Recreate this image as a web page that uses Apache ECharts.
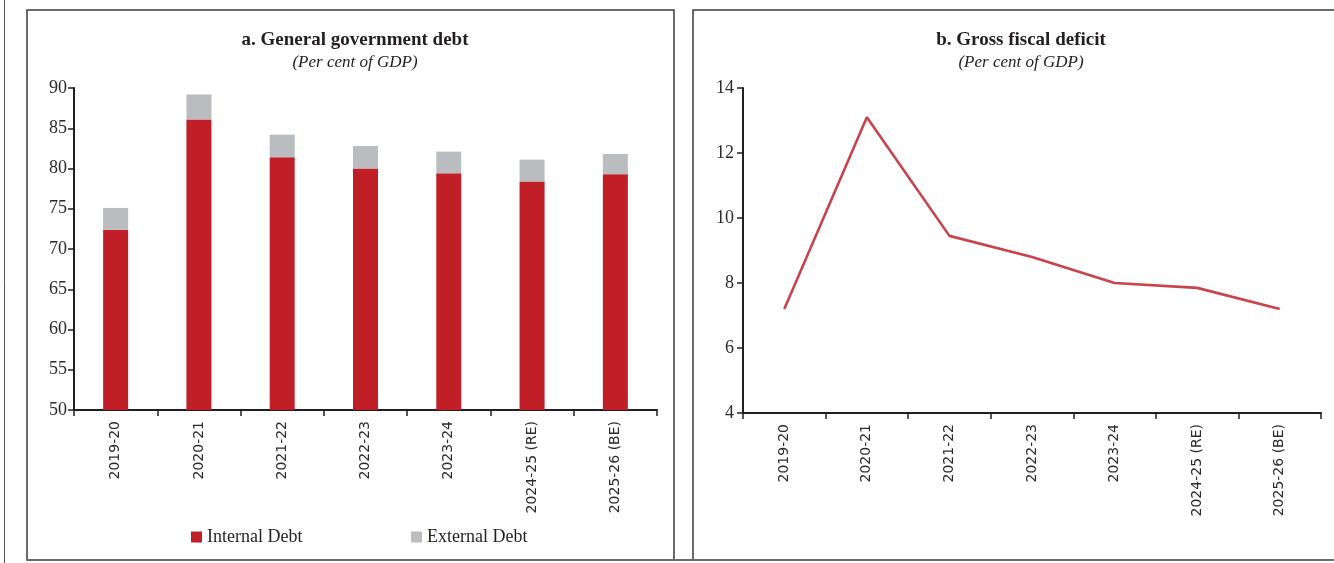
<!DOCTYPE html>
<html>
<head>
<meta charset="utf-8">
<script src="https://cdn.jsdelivr.net/npm/echarts@6/dist/echarts.min.js"></script>
<style>
  html, body { margin: 0; padding: 0; background: #ffffff; }
  #chart { width: 1334px; height: 563px; }
</style>
</head>
<body>
<div id="chart"></div>
<script>
// Fiscal years shown on both panels
const years = ['2019-20', '2020-21', '2021-22', '2022-23', '2023-24', '2024-25 (RE)', '2025-26 (BE)'];

// Panel a: general government debt, per cent of GDP
const internalDebt = [72.4, 86.1, 81.4, 80.0, 79.4, 78.4, 79.3];
const externalDebt = [2.7, 3.1, 2.8, 2.8, 2.7, 2.7, 2.5];

// Panel b: gross fiscal deficit, per cent of GDP
const grossFiscalDeficit = [7.2, 13.1, 9.45, 8.8, 8.0, 7.85, 7.2];

const titleA = 'a. General government debt';
const titleB = 'b. Gross fiscal deficit';
const subtitle = '(Per cent of GDP)';

const ink = '#231F20';
const serif = '"Liberation Serif", "DejaVu Serif", serif';
const sans = '"DejaVu Sans", Verdana, sans-serif';

const chart = echarts.init(document.getElementById('chart'), null, { renderer: 'canvas' });

function categoryAxis(gridIndex) {
  return {
    type: 'category',
    gridIndex: gridIndex,
    data: years,
    boundaryGap: true,
    axisLine: { lineStyle: { color: ink, width: 2 } },
    axisTick: { show: true, length: 6, lineStyle: { color: ink, width: 1.5 } },
    axisLabel: { rotate: 90, margin: 11, fontFamily: sans, fontSize: 14, color: '#2b2b2b' },
    splitLine: { show: false }
  };
}

function valueAxis(gridIndex, min, max, interval, margin) {
  return {
    type: 'value',
    gridIndex: gridIndex,
    min: min,
    max: max,
    interval: interval,
    axisLine: { show: true, lineStyle: { color: ink, width: 2 } },
    axisTick: { show: true, length: 6, lineStyle: { color: ink, width: 1.5 } },
    axisLabel: { margin: margin, fontFamily: serif, fontSize: 18, color: '#2b2b2b' },
    splitLine: { show: false }
  };
}

const legendText = { fontFamily: serif, fontSize: 18, color: ink };

chart.setOption({
  animation: false,
  backgroundColor: '#ffffff',
  title: [
    {
      text: titleA,
      subtext: subtitle,
      left: 350, top: 26, textAlign: 'center',
      itemGap: 4,
      textStyle: { fontFamily: serif, fontWeight: 'bold', fontSize: 19, color: ink },
      subtextStyle: { fontFamily: serif, fontStyle: 'italic', fontSize: 17, color: ink }
    },
    {
      text: titleB,
      subtext: subtitle,
      left: 1016, top: 26, textAlign: 'center',
      itemGap: 4,
      textStyle: { fontFamily: serif, fontWeight: 'bold', fontSize: 19, color: ink },
      subtextStyle: { fontFamily: serif, fontStyle: 'italic', fontSize: 17, color: ink }
    }
  ],
  legend: [
    {
      data: ['Internal Debt'],
      left: 186, top: 523,
      itemWidth: 11, itemHeight: 11,
      icon: 'rect',
      textStyle: legendText
    },
    {
      data: ['External Debt'],
      left: 406, top: 523,
      itemWidth: 11, itemHeight: 11,
      icon: 'rect',
      textStyle: legendText
    }
  ],
  grid: [
    { left: 74, right: 1334 - 657, top: 88, bottom: 563 - 410 },
    { left: 743, right: 1334 - 1321, top: 88, bottom: 563 - 413 }
  ],
  xAxis: [categoryAxis(0), categoryAxis(1)],
  yAxis: [valueAxis(0, 50, 90, 5, 7), valueAxis(1, 4, 14, 2, 9)],
  series: [
    {
      name: 'Internal Debt',
      type: 'bar',
      stack: 'debt',
      xAxisIndex: 0, yAxisIndex: 0,
      barWidth: 25,
      itemStyle: { color: '#C01F27' },
      data: internalDebt
    },
    {
      name: 'External Debt',
      type: 'bar',
      stack: 'debt',
      xAxisIndex: 0, yAxisIndex: 0,
      barWidth: 25,
      itemStyle: { color: '#BBBCBF' },
      data: externalDebt
    },
    {
      name: 'Gross fiscal deficit',
      type: 'line',
      xAxisIndex: 1, yAxisIndex: 1,
      showSymbol: false,
      symbol: 'none',
      lineStyle: { color: '#C8434B', width: 2.6 },
      data: grossFiscalDeficit
    }
  ],
  graphic: [
    // page rule at the far left
    { type: 'line', shape: { x1: 4.5, y1: 0, x2: 4.5, y2: 563 }, style: { stroke: '#555555', lineWidth: 1 }, silent: true },
    // panel frames
    { type: 'rect', shape: { x: 27, y: 10, width: 647, height: 550 }, style: { fill: null, stroke: '#3a3a3a', lineWidth: 1.5 }, silent: true },
    { type: 'rect', shape: { x: 693, y: 10, width: 700, height: 550 }, style: { fill: null, stroke: '#3a3a3a', lineWidth: 1.5 }, silent: true },
    // bottom rule across the page
    { type: 'line', shape: { x1: 27, y1: 560, x2: 1334, y2: 560 }, style: { stroke: '#6b6b6b', lineWidth: 2 }, silent: true }
  ]
});
</script>
</body>
</html>
